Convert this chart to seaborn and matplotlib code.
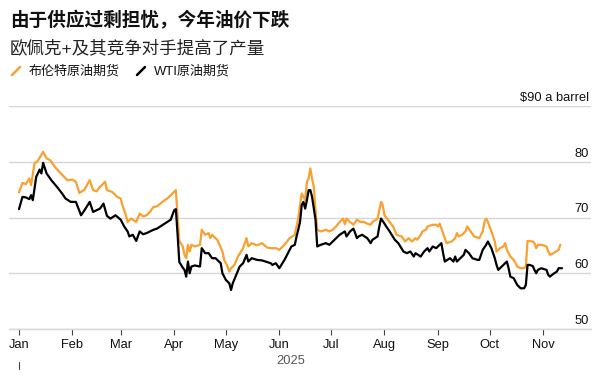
import pandas as pd
import numpy as np
import matplotlib
matplotlib.use("Agg")
import matplotlib.pyplot as plt
import matplotlib.dates as mdates
from matplotlib.lines import Line2D
import seaborn as sns

# days since 2025-01-01 and settlement prices
brent_day = [
    0, 2, 4, 6, 7, 9, 11, 14, 16, 18,
    21, 24, 28, 31, 33, 35, 38, 41, 43, 45,
    47, 50, 51, 54, 57, 59, 60, 62, 63, 65,
    68, 70, 72, 74, 76, 78, 80, 82, 84, 86,
    89, 90, 91, 92, 93, 95, 96, 97, 98, 99,
    100, 102, 105, 106, 108, 110, 111, 112, 115, 118,
    119, 121, 122, 123, 125, 127, 130, 132, 133, 135,
    138, 141, 144, 146, 149, 151, 154, 157, 160, 161,
    162, 163, 164, 165, 166, 167, 168, 169, 170, 171,
    172, 173, 175, 178, 180, 182, 184, 186, 188, 189,
    190, 192, 194, 196, 198, 200, 202, 204, 205, 208,
    209, 210, 211, 212, 215, 217, 219, 222, 224, 226,
    228, 230, 231, 233, 234, 236, 237, 240, 242, 243,
    244, 246, 248, 251, 253, 254, 255, 257, 259, 260,
    262, 264, 267, 269, 270, 271, 272, 274, 276, 277,
    279, 281, 282, 283, 285, 287, 288, 289, 291, 293,
    294, 295, 298, 299, 300, 301, 303, 306, 307, 308,
    310, 313, 314]
brent_price = [
    74.5, 76.2, 76.0, 77.0, 75.8, 79.7, 80.2, 81.8, 80.6, 80.3,
    79.0, 78.0, 76.7, 76.8, 76.4, 74.4, 75.0, 76.7, 74.9, 74.7,
    75.5, 76.4, 74.9, 74.6, 73.7, 73.4, 72.2, 70.4, 69.2, 69.8,
    69.2, 70.7, 70.2, 70.4, 71.0, 71.9, 72.0, 72.5, 73.0, 73.4,
    74.3, 74.6, 74.9, 70.1, 65.8, 64.8, 63.3, 62.7, 65.1, 63.9,
    65.1, 64.8, 65.1, 67.8, 66.9, 67.2, 66.3, 66.9, 66.0, 63.9,
    62.4, 61.2, 60.3, 60.9, 61.5, 63.0, 64.5, 66.3, 64.8, 65.4,
    65.0, 65.4, 64.6, 64.5, 64.5, 64.2, 65.1, 66.3, 66.9, 68.4,
    69.8, 72.2, 74.3, 73.7, 73.1, 76.4, 77.0, 78.8, 77.0, 75.5,
    71.3, 67.8, 67.5, 67.8, 67.5, 67.8, 68.4, 69.2, 69.8, 68.8,
    69.8, 69.2, 68.7, 69.6, 69.2, 69.2, 68.9, 68.7, 69.2, 69.8,
    71.3, 72.8, 72.2, 70.4, 69.2, 68.4, 66.9, 66.6, 65.7, 66.3,
    65.7, 66.3, 66.0, 66.9, 67.5, 67.8, 68.4, 68.7, 68.7, 68.4,
    68.9, 67.2, 65.4, 65.7, 66.3, 67.2, 66.6, 66.9, 67.5, 68.4,
    67.5, 66.6, 66.3, 67.5, 69.2, 69.8, 69.2, 67.5, 65.7, 63.9,
    64.5, 64.8, 65.4, 64.2, 63.0, 62.4, 61.8, 61.2, 60.9, 60.9,
    61.2, 65.8, 65.7, 65.4, 64.5, 65.1, 65.1, 64.8, 63.9, 63.3,
    63.6, 64.2, 65.1]

wti_day = [
    0, 2, 4, 6, 7, 8, 10, 12, 13, 14,
    16, 19, 22, 25, 27, 30, 33, 36, 38, 41,
    43, 45, 47, 49, 51, 53, 56, 59, 61, 63,
    64, 66, 68, 70, 72, 74, 76, 78, 80, 82,
    84, 86, 88, 90, 91, 92, 93, 95, 96, 97,
    98, 99, 100, 102, 105, 106, 108, 110, 112, 114,
    117, 118, 120, 122, 123, 124, 126, 128, 130, 132,
    133, 135, 138, 141, 143, 146, 147, 149, 151, 154,
    156, 158, 160, 161, 162, 163, 164, 165, 166, 167,
    168, 169, 170, 172, 173, 175, 178, 180, 182, 185,
    186, 189, 190, 192, 194, 195, 196, 197, 199, 202,
    204, 205, 208, 209, 210, 212, 213, 215, 218, 220,
    223, 225, 227, 229, 230, 233, 235, 237, 238, 240,
    242, 245, 246, 247, 250, 252, 253, 254, 256, 258,
    259, 261, 263, 266, 267, 269, 271, 272, 274, 276,
    277, 278, 280, 282, 283, 284, 285, 287, 288, 289,
    291, 293, 294, 295, 296, 298, 299, 300, 301, 303,
    306, 307, 308, 310, 312, 313, 315]
wti_price = [
    71.5, 73.7, 73.6, 73.3, 74.0, 73.1, 77.3, 78.6, 77.9, 79.8,
    77.9, 76.6, 75.5, 74.3, 73.4, 72.8, 72.8, 70.4, 71.3, 72.8,
    71.0, 71.3, 71.6, 72.5, 70.3, 69.8, 70.4, 69.6, 68.4, 67.5,
    66.6, 66.9, 65.8, 67.5, 67.0, 67.2, 67.5, 67.8, 68.0, 68.4,
    68.8, 69.2, 69.6, 71.3, 71.5, 66.9, 62.0, 61.0, 60.6, 59.4,
    62.1, 60.0, 61.2, 61.4, 61.2, 64.5, 63.6, 63.6, 62.7, 62.7,
    61.8, 60.0, 58.8, 58.2, 57.0, 58.2, 59.7, 61.2, 61.8, 63.3,
    62.1, 62.7, 62.4, 62.3, 62.1, 61.8, 61.5, 61.8, 60.9, 62.4,
    63.6, 64.8, 65.1, 66.6, 67.8, 69.2, 72.2, 72.8, 71.6, 73.1,
    74.9, 74.9, 73.7, 69.6, 64.8, 65.1, 65.4, 65.1, 65.7, 66.6,
    66.9, 67.5, 66.6, 67.5, 68.0, 67.2, 66.3, 66.6, 66.9, 66.3,
    65.4, 66.0, 66.6, 68.4, 69.8, 68.9, 68.4, 67.5, 66.0, 65.4,
    63.9, 63.6, 63.9, 63.0, 63.6, 63.0, 63.9, 64.5, 63.9, 64.8,
    64.5, 65.4, 63.6, 62.1, 62.7, 62.1, 63.0, 62.1, 62.7, 63.3,
    64.2, 63.6, 62.7, 62.4, 62.4, 64.2, 65.1, 65.7, 64.5, 62.7,
    61.5, 60.6, 61.2, 61.8, 62.1, 60.9, 59.4, 59.1, 58.5, 57.9,
    57.3, 57.3, 57.9, 61.5, 61.5, 61.3, 60.6, 60.0, 60.6, 60.9,
    60.6, 59.7, 59.4, 59.9, 60.3, 60.9, 60.9]

y_ticks = [50, 60, 70, 80, 90]
y_labels = ["50", "60", "70", "80", "$90 a barrel"]

title = "由于供应过剩担忧，今年油价下跌"
subtitle = "欧佩克+及其竞争对手提高了产量"
brent_name = "布伦特原油期货"
wti_name = "WTI原油期货"

ORANGE = "#F9A030"
BLACK = "#000000"
GRID = "#d6d6d6"

sns.set_style("white")
plt.rcParams["font.family"] = ["Liberation Sans", "Noto Sans CJK SC", "DejaVu Sans"]

base = pd.Timestamp("2025-01-01")
brent = pd.DataFrame({"date": base + pd.to_timedelta(brent_day, unit="D"), "price": brent_price})
wti = pd.DataFrame({"date": base + pd.to_timedelta(wti_day, unit="D"), "price": wti_price})

W, H = 601, 379
fig = plt.figure(figsize=(W / 100, H / 100), dpi=100)
ax = fig.add_axes([9 / W, 1 - 329 / H, 582 / W, 223 / H])

sns.lineplot(data=brent, x="date", y="price", ax=ax, color=ORANGE, lw=1.6, estimator=None)
sns.lineplot(data=wti, x="date", y="price", ax=ax, color=BLACK, lw=1.6, estimator=None)

ax.set_xlim(base - pd.Timedelta(days=5.8), base + pd.Timedelta(days=331.8))
ax.set_ylim(50, 90)
ax.set_xlabel("")
ax.set_ylabel("")

for s in ["top", "right", "left"]:
    ax.spines[s].set_visible(False)
ax.spines["bottom"].set_color(GRID)
ax.spines["bottom"].set_linewidth(1)

ax.set_yticks(y_ticks)
ax.yaxis.grid(True, color=GRID, lw=1)
ax.tick_params(axis="y", left=False, labelleft=False)
for v, lab in zip(y_ticks, y_labels):
    ax.annotate(lab.replace("$", r"\$"), xy=(1, v), xycoords=("axes fraction", "data"),
                xytext=(-2, 5), textcoords="offset pixels", ha="right", va="baseline",
                fontsize=9.3, color="#111111")

months = pd.date_range("2025-01-01", "2025-11-01", freq="MS")
ax.set_xticks(months)
ax.xaxis.set_major_formatter(mdates.DateFormatter("%b"))
ax.tick_params(axis="x", bottom=True, direction="out", length=4.5, width=0.8,
               color="#444444", pad=3, labelsize=9.3, labelcolor="#111111")

# year label under the axis
ax.text(0.4845, -0.143, "2025", transform=ax.transAxes, ha="center", va="center",
        fontsize=9.3, color="#555555")
ax.plot([base, base], [-0.148, -0.178], transform=ax.get_xaxis_transform(),
        color="#444444", lw=0.8, clip_on=False)

# titles
fig.text(10 / W, 1 - 21 / H, title, fontsize=13.4, fontweight="bold", color="#111111",
         ha="left", va="center")
fig.text(10 / W, 1 - 48 / H, subtitle, fontsize=12.6, color="#222222",
         ha="left", va="center")

# legend
for x0, col, name in [(12, ORANGE, brent_name), (137, BLACK, wti_name)]:
    fig.add_artist(Line2D([x0 / W, (x0 + 8) / W], [1 - 75 / H, 1 - 67 / H],
                          transform=fig.transFigure, color=col, lw=1.8))
    fig.text((x0 + 17) / W, 1 - 71.5 / H, name, fontsize=9.4, color="#111111",
             ha="left", va="center")

fig.savefig("out.png", dpi=100)
